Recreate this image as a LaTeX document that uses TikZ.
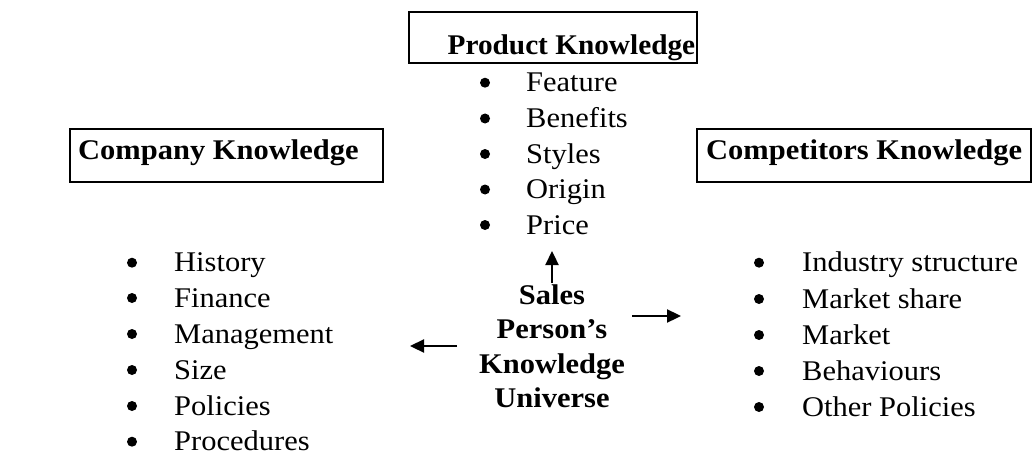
\documentclass[tikz,border=0pt]{standalone}
\usepackage{fontspec}
\setmainfont[FakeStretch=1.07]{Liberation Serif}
\usetikzlibrary{arrows.meta}
\begin{document}
\begin{tikzpicture}[x=1pt,y=-1pt,
  item/.style={anchor=base west, inner sep=0pt, font=\fontsize{28.5}{34}\selectfont},
  title/.style={anchor=base west, inner sep=0pt, font=\fontsize{28.5}{34}\selectfont\bfseries},
  boxline/.style={draw, line width=1.3pt},
  dot/.style={circle, fill, inner sep=0pt, minimum size=10pt},
  arr/.style={line width=2.3pt, -{Triangle[length=14pt,width=13pt]}}]
\useasboundingbox (0,0) rectangle (1032,468);

% boxes
\draw[boxline] (409,12) rectangle (697,63);
\draw[boxline] (70,129) rectangle (383,182);
\draw[boxline] (697,129) rectangle (1031,182);

% titles
\node[title, xscale=0.96] (prodT) at (447.5,55) {Product Knowledge};
\node[title] (compT) at (78,159) {Company Knowledge};
\node[title] (competT) at (706,159) {Competitors Knowledge};

% product list
\foreach \t/\y [count=\i] in {Feature/91.7,Benefits/127.5,Styles/163,Origin/198.5,Price/234}{
  \node[dot] (pd\i) at (485,\y-9) {};
  \node[item] (pi\i) at (526,\y) {\t};
}
% company list
\foreach \t/\y [count=\i] in {History/271.7,Finance/307,Management/343,Size/379,Policies/415,Procedures/450.7}{
  \node[dot] (cd\i) at (132,\y-9) {};
  \node[item] (ci\i) at (174,\y) {\t};
}
% competitors list
\foreach \t/\y [count=\i] in {Industry structure/271.7,Market share/308,Market/344,Behaviours/380,Other Policies/416}{
  \node[dot] (kd\i) at (759,\y-9) {};
  \node[item] (ki\i) at (802,\y) {\t};
}

% centre
\node[inner sep=0pt, align=center, font=\fontsize{28.5}{34.5}\selectfont\bfseries] (centre) at (552,346) {Sales\\Person’s\\Knowledge\\Universe};

% arrows
\coordinate (upS) at (552,283);
\coordinate (upE) at (552,251);
\coordinate (rtS) at (632,316);
\coordinate (rtE) at (681,316);
\coordinate (ltS) at (457,346);
\coordinate (ltE) at (410,346);
\draw[arr] (upS) -- (upE);
\draw[arr] (rtS) -- (rtE);
\draw[arr] (ltS) -- (ltE);
\end{tikzpicture}
\end{document}
